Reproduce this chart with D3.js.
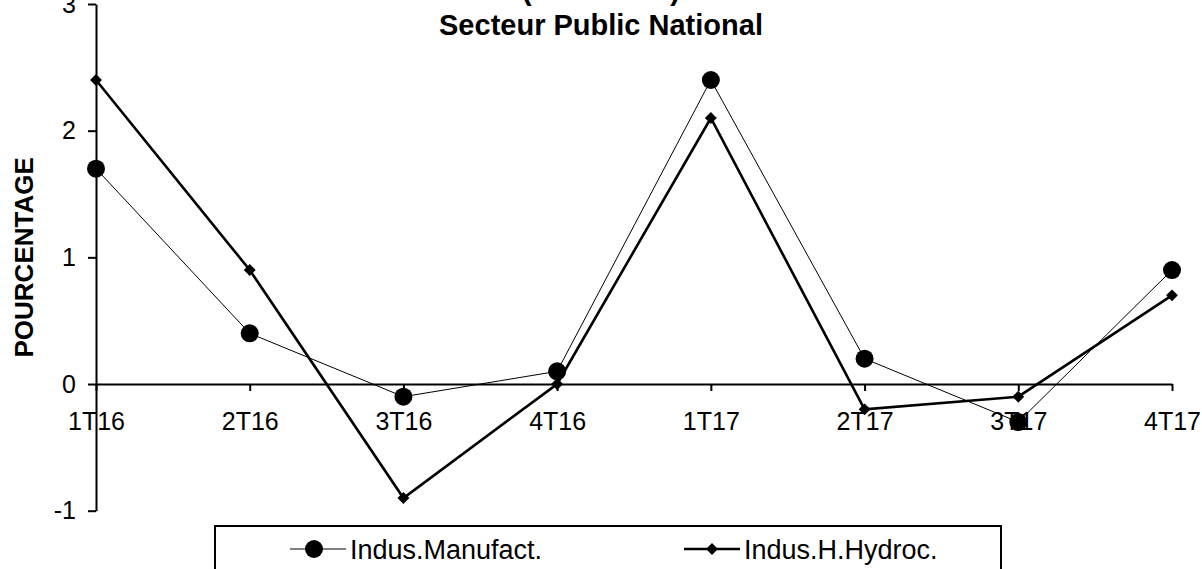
<!DOCTYPE html>
<html>
<head>
<meta charset="utf-8">
<script src="https://cdn.jsdelivr.net/npm/d3@7"></script>
<style>
    body { margin: 0; background: #fff; }
    svg { display: block; font-family: "Liberation Sans", Arial, sans-serif; }
</style>
</head>
<body>
<svg id="chart" width="1202" height="569"></svg>
<script>
// Chart data
const quarters = ["1T16", "2T16", "3T16", "4T16", "1T17", "2T17", "3T17", "4T17"];
const manufact = [1.7, 0.4, -0.1, 0.1, 2.4, 0.2, -0.3, 0.9];
const hydroc = [2.4, 0.9, -0.9, 0.0, 2.1, -0.2, -0.1, 0.7];
const yTicks = [-1, 0, 1, 2, 3];
const seriesNames = ["Indus.Manufact.", "Indus.H.Hydroc."];

const svg = d3.select("#chart");

const xScale = d3.scalePoint()
    .domain(quarters)
    .range([96, 1172]);

const yScale = d3.scaleLinear()
    .domain([-1, 3])
    .range([510.7, 4]);

// Titles (first line is cut by the top edge, like the source)
svg.append("text")
    .text("(Variations)")
    .attr("x", 601)
    .attr("y", 0)
    .attr("text-anchor", "middle")
    .attr("font-size", 29)
    .attr("font-weight", "bold");

svg.append("text")
    .text("Secteur Public National")
    .attr("x", 601)
    .attr("y", 35)
    .attr("text-anchor", "middle")
    .attr("font-size", 29)
    .attr("font-weight", "bold");

// Y axis
const leftAxis = d3.axisLeft(yScale)
    .tickValues(yTicks)
    .tickFormat(d => String(d))
    .tickSize(8)
    .tickSizeOuter(0)
    .tickPadding(12);

const yAxisG = svg.append("g")
    .attr("transform", `translate(${xScale(quarters[0])},0)`)
    .call(leftAxis);

// X axis sits at zero
const bottomAxis = d3.axisBottom(xScale)
    .tickSize(7)
    .tickSizeOuter(0)
    .tickPadding(21);

const xAxisG = svg.append("g")
    .attr("transform", `translate(0,${yScale(0)})`)
    .call(bottomAxis);

[yAxisG, xAxisG].forEach(g => {
    g.select(".domain").attr("stroke", "#000").attr("stroke-width", 2);
    g.selectAll(".tick line").attr("stroke", "#000").attr("stroke-width", 2);
    g.selectAll(".tick text")
        .attr("fill", "#000")
        .attr("font-size", 25)
        .attr("font-family", "Liberation Sans, Arial, sans-serif");
});

svg.append("text")
    .text("POURCENTAGE")
    .attr("transform", `translate(33,${(yScale(3) + yScale(-1)) / 2}) rotate(-90)`)
    .attr("text-anchor", "middle")
    .attr("font-size", 26)
    .attr("font-weight", "bold");

// Lines
const line = d3.line()
    .x((d, i) => xScale(quarters[i]))
    .y(d => yScale(d));

svg.append("path")
    .datum(hydroc)
    .attr("d", line)
    .attr("fill", "none")
    .attr("stroke", "#000")
    .attr("stroke-width", 2.6);

svg.append("path")
    .datum(manufact)
    .attr("d", line)
    .attr("fill", "none")
    .attr("stroke", "#000")
    .attr("stroke-width", 1);

const diamond = d3.symbol().type(d3.symbolDiamond2).size(90);

svg.selectAll(".pt-hydroc")
    .data(hydroc)
    .join("path")
    .attr("class", "pt-hydroc")
    .attr("d", diamond)
    .attr("transform", (d, i) => `translate(${xScale(quarters[i])},${yScale(d)})`)
    .attr("fill", "#000");

svg.selectAll(".pt-manufact")
    .data(manufact)
    .join("circle")
    .attr("class", "pt-manufact")
    .attr("cx", (d, i) => xScale(quarters[i]))
    .attr("cy", d => yScale(d))
    .attr("r", 9)
    .attr("fill", "#000");

// Legend
const legend = svg.append("g");

legend.append("rect")
    .attr("x", 215)
    .attr("y", 526)
    .attr("width", 786)
    .attr("height", 60)
    .attr("fill", "#fff")
    .attr("stroke", "#000")
    .attr("stroke-width", 2);

const legendItems = [
    { name: seriesNames[0], x: 290, width: 1, marker: "circle" },
    { name: seriesNames[1], x: 684, width: 2.6, marker: "diamond" }
];

legendItems.forEach(item => {
    const g = legend.append("g").attr("transform", `translate(${item.x},549)`);
    g.append("line")
        .attr("x1", 0)
        .attr("x2", 56)
        .attr("stroke", "#000")
        .attr("stroke-width", item.width);
    if (item.marker === "circle") {
        g.append("circle").attr("cx", 24).attr("r", 9).attr("fill", "#000");
    } else {
        g.append("path")
            .attr("d", diamond)
            .attr("transform", "translate(28,0)")
            .attr("fill", "#000");
    }
    g.append("text")
        .text(item.name)
        .attr("x", 60)
        .attr("y", 10)
        .attr("font-size", 27);
});
</script>
</body>
</html>
